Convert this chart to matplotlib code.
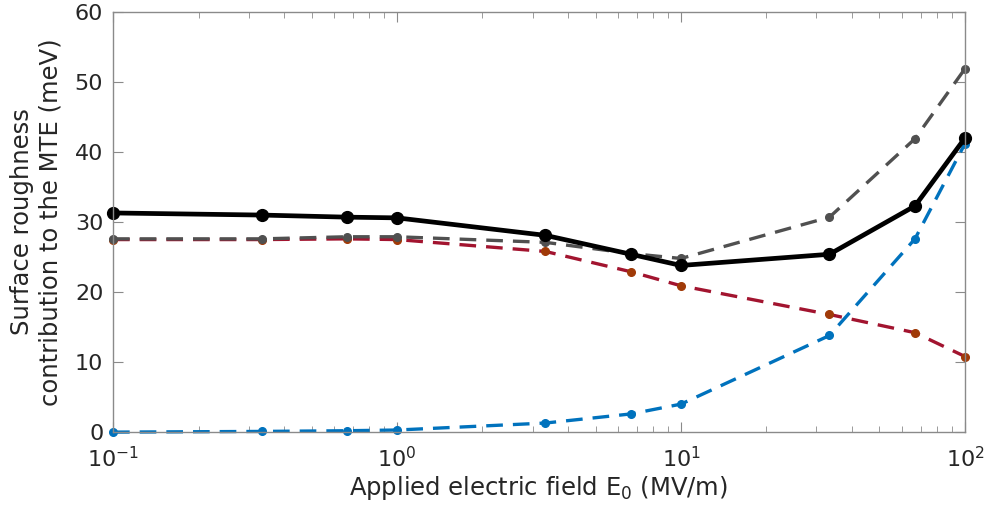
import matplotlib
matplotlib.use('Agg')
import matplotlib.pyplot as plt
from matplotlib.ticker import LogLocator, NullFormatter

# Applied field values (MV/m)
E0 = [0.1, 1/3, 2/3, 1.0, 10/3, 20/3, 10.0, 100/3, 200/3, 100.0]

# Contributions to the MTE (meV)
total   = [31.3, 31.0, 30.7, 30.6, 28.1, 25.4, 23.8, 25.4, 32.3, 42.0]
upper   = [27.6, 27.6, 27.9, 27.9, 27.1, 25.5, 24.8, 30.7, 41.9, 51.9]
slope   = [27.5, 27.5, 27.6, 27.5, 25.8, 22.9, 20.9, 16.8, 14.2, 10.8]
field   = [0.0, 0.1, 0.2, 0.3, 1.3, 2.6, 4.0, 13.8, 27.6, 41.2]

plt.rcParams['font.family'] = 'DejaVu Sans'
fig = plt.figure(figsize=(9.87, 5.12), dpi=100)
ax = fig.add_axes([0.1145, 0.156, 0.8632, 0.8206])

ax.plot(E0, field, '--', color='#0072BD', lw=2.4, dashes=(5, 3),
        marker='o', ms=5.5, mfc='#0072BD', mec='#0072BD', clip_on=False)
ax.plot(E0, slope, '--', color='#A2142F', lw=2.4, dashes=(5, 3),
        marker='o', ms=5.5, mfc='#A03A08', mec='#A03A08', clip_on=False)
ax.plot(E0, upper, '--', color='#505050', lw=2.4, dashes=(5, 3),
        marker='o', ms=5.5, mfc='#505050', mec='#505050', clip_on=False)
ax.plot(E0, total, '-', color='black', lw=3.4, marker='o', ms=8.5,
        clip_on=False)

ax.set_xscale('log')
ax.set_xlim(0.1, 100)
ax.set_ylim(0, 60)
ax.set_yticks(range(0, 61, 10))
ax.xaxis.set_minor_locator(LogLocator(base=10, subs=range(2, 10)))
ax.xaxis.set_minor_formatter(NullFormatter())

for s in ax.spines.values():
    s.set_color('#8a8a8a')
    s.set_linewidth(1.0)
ax.tick_params(which='both', direction='in', top=True, right=True,
               colors='#8a8a8a', labelcolor='#262626', labelsize=16)
ax.tick_params(which='major', length=7)
ax.tick_params(which='minor', length=4)
ax.tick_params(axis='x', which='major', pad=10)
ax.tick_params(axis='y', which='major', pad=7)

ax.set_xlabel('Applied electric field E$_0$ (MV/m)', fontsize=17.5,
              color='#262626', labelpad=2)
ax.set_ylabel('Surface roughness\ncontribution to the MTE (meV)', fontsize=17.5,
              color='#262626', labelpad=9)

fig.savefig('out.png', dpi=100)
